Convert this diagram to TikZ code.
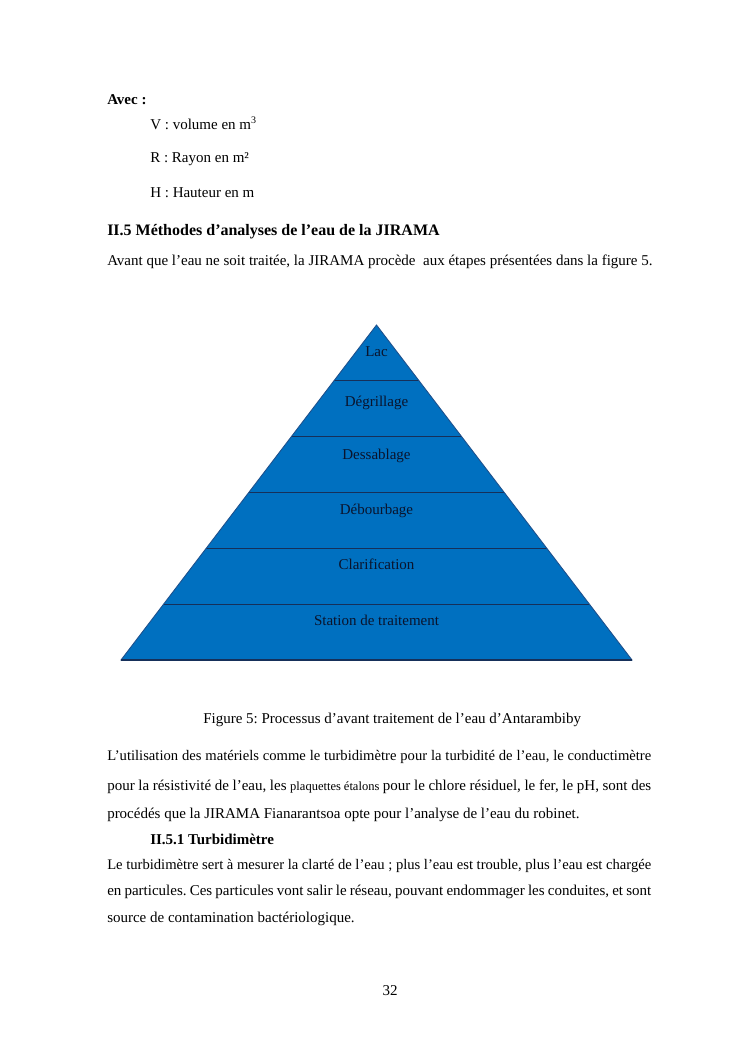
\documentclass[tikz,border=0pt]{standalone}
\usepackage{fontspec}
\setmainfont{Liberation Serif}
\usetikzlibrary{calc}
\definecolor{pyrblue}{RGB}{0,112,192}
\definecolor{pyrline}{RGB}{22,48,90}
\definecolor{pyredge}{RGB}{30,80,140}
\definecolor{pyrtext}{RGB}{10,20,45}
\begin{document}
\frenchspacing
\begin{tikzpicture}[x=0.8pt,y=-0.8pt,
  body/.style={anchor=base west,inner sep=0pt,font=\fontsize{12}{14}\selectfont\frenchspacing},
  tight/.style={anchor=base west,inner sep=0pt,font=\fontsize{11.7}{14}\selectfont\frenchspacing},
  bodyc/.style={anchor=base,inner sep=0pt,font=\fontsize{12}{14}\selectfont},
  layertext/.style={anchor=base,inner sep=0pt,font=\fontsize{12}{14}\selectfont,text=pyrtext},
  divline/.style={draw=pyrline,line width=0.9pt}]
\useasboundingbox[fill=white] (0,0) rectangle (744,1053);
% top text
\node[body] (avec) at (107,104) {\textbf{Avec :}};
\node[body] (v) at (150,129) {V : volume en m\textsuperscript{3}};
\node[body] (r) at (150,162) {R : Rayon en m²};
\node[body] (h) at (150,197) {H : Hauteur en m};
\node[anchor=base west,inner sep=0pt,font=\fontsize{12.8}{15}\selectfont\bfseries] (head) at (107,235) {II.5 Méthodes d’analyses de l’eau de la JIRAMA};
\node[body] (avant) at (107,265) {Avant que l’eau ne soit traitée, la JIRAMA procède\ \ aux étapes présentées dans la figure 5.};
% pyramid
\coordinate (apex) at (376.5,325);
\coordinate (bl) at (121,660);
\coordinate (br) at (632,660);
\fill[pyrblue] (apex) -- (bl) -- (br) -- cycle;
\foreach \k in {1,...,5}{
  \draw[divline] ($(apex)!\k/6!(bl)$) -- ($(apex)!\k/6!(br)$);
}
\draw[pyredge,line width=0.7pt,line join=miter] (apex) -- (bl) -- (br) -- cycle;
\draw[divline] (bl) -- (br);
\node[layertext] (lac) at (376.5,356) {Lac};
\node[layertext] (degr) at (376.5,406) {Dégrillage};
\node[layertext] (dess) at (376.5,459) {Dessablage};
\node[layertext] (debo) at (376.5,514) {Débourbage};
\node[layertext] (clar) at (376.5,569) {Clarification};
\node[layertext] (stat) at (376.5,625) {Station de traitement};
% caption
\node[body] (cap) at (203,723) {Figure 5: Processus d’avant traitement de l’eau d’Antarambiby};
% paragraph
\node[tight] (p1) at (107,760) {\makebox[435.2pt][s]{L’utilisation des matériels comme le turbidimètre pour la turbidité de l’eau, le conductimètre}};
\node[body] (p2) at (107,790) {\makebox[435.2pt][s]{pour la résistivité de l’eau, les {\fontsize{10}{12}\selectfont plaquettes étalons} pour le chlore résiduel, le fer, le pH, sont des}};
\node[body] (p3) at (107,818) {procédés que la JIRAMA Fianarantsoa opte pour l’analyse de l’eau du robinet.};
\node[body] (sub) at (150,844) {\textbf{II.5.1 Turbidimètre}};
\node[tight] (q1) at (107,869) {\makebox[435.2pt][s]{Le turbidimètre sert à mesurer la clarté de l’eau ; plus l’eau est trouble, plus l’eau est chargée}};
\node[body] (q2) at (107,895) {\makebox[435.2pt][s]{en particules. Ces particules vont salir le réseau, pouvant endommager les conduites, et sont}};
\node[body] (q3) at (107,922) {source de contamination bactériologique.};
\node[bodyc] (page) at (390,995) {32};
\end{tikzpicture}
\end{document}
